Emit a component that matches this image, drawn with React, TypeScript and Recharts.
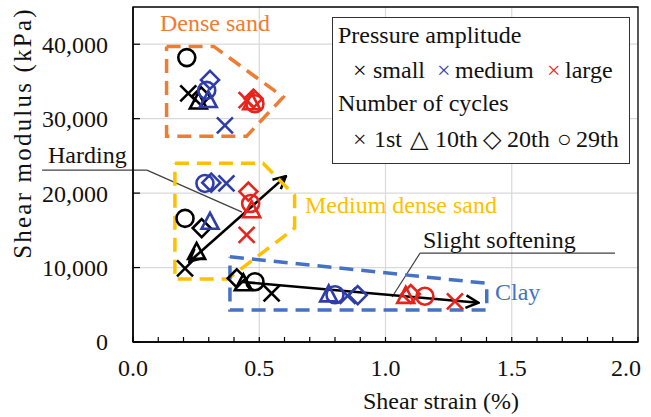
import React from 'react';
import { ScatterChart, Scatter, XAxis, YAxis, CartesianGrid, ReferenceLine, ReferenceArea } from 'recharts';

type Pt = { x: number; y: number };

// each series: [dense sand, medium dense sand, clay]
const smallFirst: Pt[] = [{ x: 0.219, y: 33400 }, { x: 0.206, y: 9900 }, { x: 0.549, y: 6530 }];
const small10th: Pt[] = [{ x: 0.259, y: 32300 }, { x: 0.252, y: 12100 }, { x: 0.437, y: 7900 }];
const small20th: Pt[] = [{ x: 0.27, y: 33000 }, { x: 0.272, y: 15300 }, { x: 0.411, y: 8550 }];
const small29th: Pt[] = [{ x: 0.213, y: 38200 }, { x: 0.206, y: 16600 }, { x: 0.483, y: 8100 }];

const mediumFirst: Pt[] = [{ x: 0.364, y: 29100 }, { x: 0.37, y: 21300 }, { x: 0.85, y: 6200 }];
const medium10th: Pt[] = [{ x: 0.298, y: 32500 }, { x: 0.305, y: 16150 }, { x: 0.775, y: 6400 }];
const medium20th: Pt[] = [{ x: 0.305, y: 35200 }, { x: 0.31, y: 21400 }, { x: 0.89, y: 6300 }];
const medium29th: Pt[] = [{ x: 0.292, y: 33800 }, { x: 0.285, y: 21300 }, { x: 0.8, y: 6350 }];

const largeFirst: Pt[] = [{ x: 0.45, y: 32500 }, { x: 0.45, y: 14400 }, { x: 1.275, y: 5450 }];
const large10th: Pt[] = [{ x: 0.47, y: 32200 }, { x: 0.47, y: 17700 }, { x: 1.08, y: 6200 }];
const large20th: Pt[] = [{ x: 0.477, y: 32700 }, { x: 0.457, y: 20200 }, { x: 1.1, y: 6450 }];
const large29th: Pt[] = [{ x: 0.483, y: 32000 }, { x: 0.466, y: 18600 }, { x: 1.156, y: 6150 }];

// dashed outlines around each soil group
const densePoly: Pt[] = [
  { x: 0.133, y: 39700 }, { x: 0.32, y: 39700 }, { x: 0.595, y: 32900 },
  { x: 0.45, y: 27650 }, { x: 0.133, y: 27650 }, { x: 0.133, y: 39700 },
];
const mediumPoly: Pt[] = [
  { x: 0.166, y: 24000 }, { x: 0.515, y: 24000 }, { x: 0.64, y: 19700 }, { x: 0.64, y: 15300 },
  { x: 0.376, y: 8460 }, { x: 0.166, y: 8460 }, { x: 0.166, y: 24000 },
];
const clayPoly: Pt[] = [
  { x: 0.384, y: 11450 }, { x: 1.401, y: 7880 }, { x: 1.401, y: 4300 },
  { x: 0.384, y: 4300 }, { x: 0.384, y: 11450 },
];

// arrows and leader lines
const hardingArrow: Pt[] = [{ x: 0.223, y: 10780 }, { x: 0.606, y: 22280 }];
const softeningArrow: Pt[] = [{ x: 0.424, y: 8090 }, { x: 1.368, y: 5280 }];
const hardingLeader: Pt[][] = [
  [{ x: -0.36, y: 23090 }, { x: 0.055, y: 23090 }],
  [{ x: 0.055, y: 23090 }, { x: 0.432, y: 17450 }],
];
const softeningLeader: Pt[][] = [
  [{ x: 1.137, y: 11950 }, { x: 1.909, y: 11950 }],
  [{ x: 1.137, y: 11950 }, { x: 1.026, y: 6040 }],
];

const X_TICKS = [0, 0.1, 0.2, 0.3, 0.4, 0.5, 0.6, 0.7, 0.8, 0.9, 1, 1.1, 1.2, 1.3, 1.4, 1.5, 1.6, 1.7, 1.8, 1.9, 2];
const X_LABELS = [0, 0.5, 1, 1.5, 2];
const Y_TICKS = [0, 10000, 20000, 30000, 40000];

const BLACK = '#000000';
const BLUE = '#2f3dab';
const RED = '#e8231c';
const ORANGE = '#ed7d31';
const GOLD = '#ffc000';
const CLAY_BLUE = '#4472c4';
const FONT = "'Liberation Serif', 'Times New Roman', serif";

type Mark = 'cross' | 'triangle' | 'diamond' | 'circle';

const makeShape = (mark: Mark, color: string) => (props: any) => {
  const { cx, cy } = props;
  const common = { stroke: color, strokeWidth: 2.6, fill: 'none' };
  if (mark === 'cross') {
    const h = 8;
    return (
      <g>
        <line x1={cx - h} y1={cy - h} x2={cx + h} y2={cy + h} {...common} />
        <line x1={cx - h} y1={cy + h} x2={cx + h} y2={cy - h} {...common} />
      </g>
    );
  }
  if (mark === 'triangle') {
    return <polygon points={`${cx},${cy - 9} ${cx - 8.5},${cy + 7} ${cx + 8.5},${cy + 7}`} {...common} />;
  }
  if (mark === 'diamond') {
    return <polygon points={`${cx},${cy - 9} ${cx + 9},${cy} ${cx},${cy + 9} ${cx - 9},${cy}`} {...common} />;
  }
  return <circle cx={cx} cy={cy} r={8.5} {...common} />;
};

const SERIES: { name: string; data: Pt[]; mark: Mark; color: string }[] = [
  { name: 'small-1st', data: smallFirst, mark: 'cross', color: BLACK },
  { name: 'small-10th', data: small10th, mark: 'triangle', color: BLACK },
  { name: 'small-20th', data: small20th, mark: 'diamond', color: BLACK },
  { name: 'small-29th', data: small29th, mark: 'circle', color: BLACK },
  { name: 'medium-1st', data: mediumFirst, mark: 'cross', color: BLUE },
  { name: 'medium-10th', data: medium10th, mark: 'triangle', color: BLUE },
  { name: 'medium-20th', data: medium20th, mark: 'diamond', color: BLUE },
  { name: 'medium-29th', data: medium29th, mark: 'circle', color: BLUE },
  { name: 'large-1st', data: largeFirst, mark: 'cross', color: RED },
  { name: 'large-10th', data: large10th, mark: 'triangle', color: RED },
  { name: 'large-20th', data: large20th, mark: 'diamond', color: RED },
  { name: 'large-29th', data: large29th, mark: 'circle', color: RED },
];

const XTick = (props: any) => {
  const { x, y, payload } = props;
  const v = payload.value;
  const axisY = y - 26;
  const last = v === 2;
  return (
    <g>
      <line x1={x} y1={axisY} x2={x} y2={axisY - 5} stroke="#000" strokeWidth={1.2} />
      {X_LABELS.includes(v) && (
        <text x={last ? x + 3 : x} y={y} dy="0.35em" textAnchor={last ? 'end' : 'middle'} fontFamily={FONT} fontSize={24} fill="#111">
          {v.toFixed(1)}
        </text>
      )}
    </g>
  );
};

const YTick = (props: any) => {
  const { x, y, payload } = props;
  const axisX = x + 25;
  return (
    <g>
      <line x1={axisX} y1={y} x2={axisX + 7} y2={y} stroke="#000" strokeWidth={1.2} />
      <text x={x} y={y} dy="0.35em" textAnchor="end" fontFamily={FONT} fontSize={24} fill="#111">
        {payload.value.toLocaleString('en-US')}
      </text>
    </g>
  );
};

const arrowShape = (both: boolean) => (p: any) => (
  <line
    x1={p.x1} y1={p.y1} x2={p.x2} y2={p.y2}
    stroke="#000" strokeWidth={2.6}
    markerEnd="url(#arrowHead)"
    markerStart={both ? 'url(#arrowHead)' : undefined}
  />
);

const leaderShape = (p: any) => (
  <line x1={p.x1} y1={p.y1} x2={p.x2} y2={p.y2} stroke="#404040" strokeWidth={1.2} />
);

const noDot = () => <g />;

// HTML label placed by its baseline (Liberation Serif 24px, line-height 24px => baseline ~ top + 20)
const L = (p: { x: number; y: number; color?: string; children: React.ReactNode }) => (
  <div
    style={{
      position: 'absolute', left: p.x, top: p.y - 20, lineHeight: '24px', fontSize: 24,
      fontFamily: FONT, color: p.color || '#111', whiteSpace: 'nowrap',
    }}
  >
    {p.children}
  </div>
);

export default function App() {
  return (
    <div style={{ position: 'absolute', left: 0, top: 0, width: 651, height: 417, background: '#fff', fontFamily: FONT }}>
      <svg width={0} height={0} style={{ position: 'absolute' }}>
        <defs>
          <marker id="arrowHead" viewBox="0 0 12 12" refX="11" refY="6" markerWidth="15" markerHeight="15"
            markerUnits="userSpaceOnUse" orient="auto-start-reverse">
            <path d="M1,1 L11,6 L1,11" fill="none" stroke="#000" strokeWidth={2} />
          </marker>
        </defs>
      </svg>
      <ScatterChart width={651} height={417} margin={{ top: 7, right: 13, bottom: 0, left: 0 }}>
        <CartesianGrid stroke="#d9d9d9" strokeWidth={1.2} verticalValues={[0.5, 1, 1.5]} horizontalValues={[10000, 20000, 30000, 40000]} />
        <XAxis
          type="number" dataKey="x" domain={[0, 2]} ticks={X_TICKS} interval={0}
          tick={XTick} tickLine={false} tickSize={0} tickMargin={26} height={75}
          axisLine={{ stroke: '#000', strokeWidth: 1.5 }}
        />
        <YAxis
          type="number" dataKey="y" domain={[0, 45000]} ticks={Y_TICKS} interval={0}
          tick={YTick} tickLine={false} tickSize={0} tickMargin={25} width={133}
          axisLine={{ stroke: '#000', strokeWidth: 1.5 }}
        />
        <ReferenceArea x1={0} x2={2} y1={0} y2={45000} fill="none" fillOpacity={0} stroke="#000" strokeWidth={1.3} />
        <Scatter data={densePoly} line={{ stroke: ORANGE, strokeWidth: 3.5, strokeDasharray: '14 8' }} lineType="joint" shape={noDot} isAnimationActive={false} />
        <Scatter data={mediumPoly} line={{ stroke: GOLD, strokeWidth: 3.5, strokeDasharray: '14 8' }} lineType="joint" shape={noDot} isAnimationActive={false} />
        <Scatter data={clayPoly} line={{ stroke: CLAY_BLUE, strokeWidth: 3.5, strokeDasharray: '14 8' }} lineType="joint" shape={noDot} isAnimationActive={false} />
        {SERIES.map((s) => (
          <Scatter key={s.name} name={s.name} data={s.data} shape={makeShape(s.mark, s.color)} isAnimationActive={false} />
        ))}
        {hardingLeader.map((seg, i) => (
          <ReferenceLine key={`hl${i}`} segment={seg} ifOverflow="visible" shape={leaderShape} />
        ))}
        {softeningLeader.map((seg, i) => (
          <ReferenceLine key={`sl${i}`} segment={seg} ifOverflow="visible" shape={leaderShape} />
        ))}
        <ReferenceLine segment={hardingArrow} ifOverflow="visible" shape={arrowShape(true)} />
        <ReferenceLine segment={softeningArrow} ifOverflow="visible" shape={arrowShape(false)} />
      </ScatterChart>

      {/* axis titles */}
      <div
        style={{
          position: 'absolute', left: 22, top: 133, transform: 'translate(-50%, -50%) rotate(-90deg)',
          fontFamily: FONT, fontSize: 25, lineHeight: '25px', letterSpacing: 2.2, whiteSpace: 'nowrap', color: '#111',
        }}
      >
        Shear modulus (kPa)
      </div>
      <div
        style={{
          position: 'absolute', left: 441, top: 401, transform: 'translate(-50%, -50%)',
          fontFamily: FONT, fontSize: 24, lineHeight: '24px', whiteSpace: 'nowrap', color: '#111',
        }}
      >
        Shear strain (%)
      </div>

      {/* annotations */}
      <L x={160} y={31} color={ORANGE}>Dense sand</L>
      <L x={305} y={213} color={GOLD}>Medium dense sand</L>
      <L x={495} y={300} color={CLAY_BLUE}>Clay</L>
      <L x={48} y={163}>Harding</L>
      <L x={423} y={248}>Slight softening</L>

      {/* legend box */}
      <div
        style={{
          position: 'absolute', left: 332, top: 17, width: 296, height: 145,
          background: '#fff', border: '1.5px solid #333',
        }}
      />
      <L x={338} y={43}>Pressure amplitude</L>
      <L x={353} y={78} color={BLACK}>×</L>
      <L x={373} y={78}>small</L>
      <L x={437} y={78} color={BLUE}>×</L>
      <L x={455} y={78}>medium</L>
      <L x={547} y={78} color={RED}>×</L>
      <L x={565} y={78}>large</L>
      <L x={338} y={111}>Number of cycles</L>
      <L x={353} y={147}>×</L>
      <L x={374} y={147}>1st</L>
      <L x={410} y={147}>△</L>
      <L x={435} y={147}>10th</L>
      <L x={483} y={147}>◇</L>
      <L x={507} y={147}>20th</L>
      <L x={557} y={147}>○</L>
      <L x={576} y={147}>29th</L>
    </div>
  );
}
